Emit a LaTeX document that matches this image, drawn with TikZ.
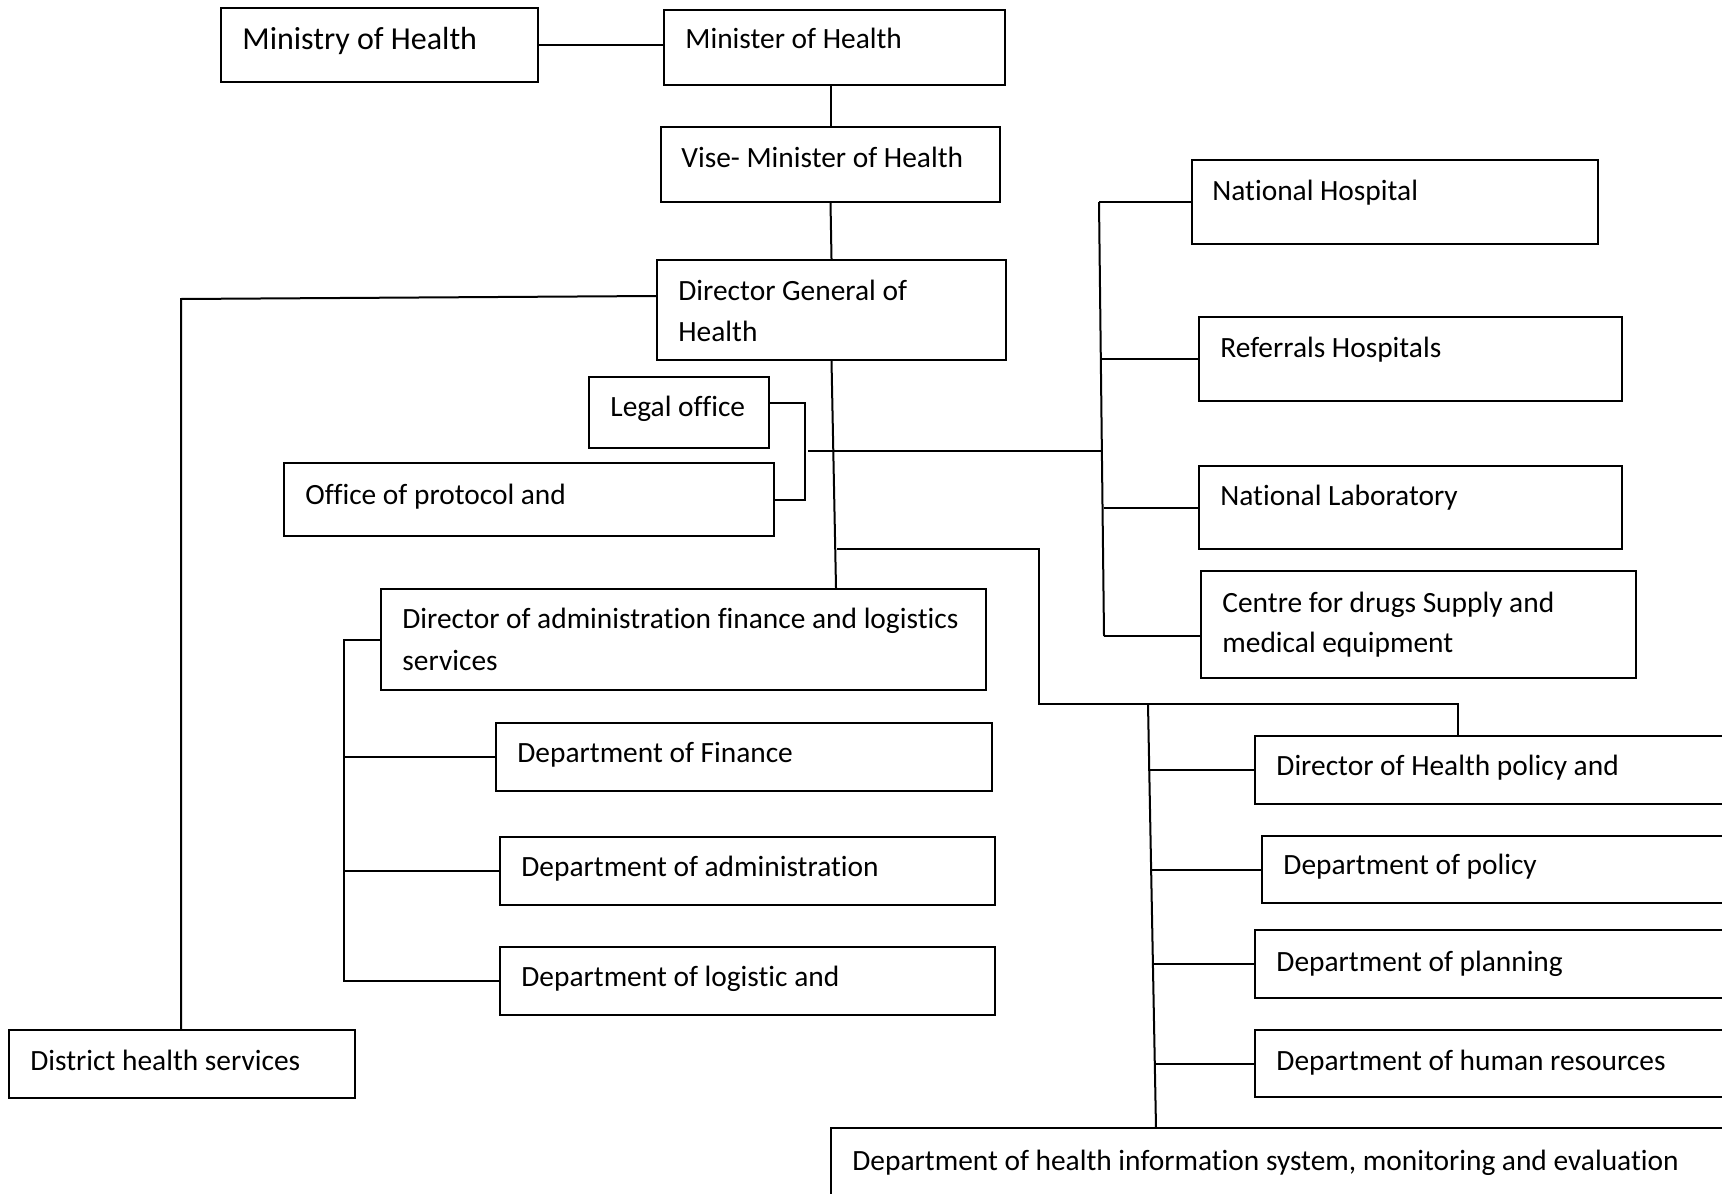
\documentclass[tikz,border=0pt]{standalone}
\usepackage{fontspec}
\setmainfont{Carlito}[Ligatures={NoCommon}]
\usetikzlibrary{fit,calc}
\begin{document}
\begin{tikzpicture}[x=0.5pt,y=-0.5pt,
  box/.style={draw,line width=1pt,inner sep=0pt,rectangle},
  conn/.style={draw,line width=1pt},
  lbl/.style={anchor=base west,inner sep=0pt,font=\fontsize{14.7pt}{18pt}\selectfont},
  biglbl/.style={anchor=base west,inner sep=0pt,font=\fontsize{16pt}{20pt}\selectfont}]
\useasboundingbox (0,0) rectangle (1722,1193);
\fill[white] (0,0) rectangle (1722,1193);
\clip (0,0) rectangle (1722,1193);

% top of the hierarchy
\node[box,fit={(221,8)(538,82)}] (ministry) {};
\node[biglbl] (ministry-t) at (242,50) {Ministry of Health};
\node[box,fit={(664,10)(1005,85)}] (minister) {};
\node[lbl] (minister-t) at (685,49) {Minister of Health};
\node[box,fit={(661,127)(1000,202)}] (vise) {};
\node[lbl] (vise-t) at (681,167) {Vise- Minister of Health};
\node[box,fit={(657,260)(1006,360)}] (dg) {};
\node[lbl] (dg-t1) at (678,300) {Director General of};
\node[lbl] (dg-t2) at (678,341) {Health};

% district level
\node[box,fit={(9,1030)(355,1098)}] (district) {};
\node[lbl] (district-t) at (30,1070) {District health services};

% offices attached to the Director General
\node[box,fit={(589,377)(769,448)}] (legal) {};
\node[lbl] (legal-t) at (610,416) {Legal office};
\node[box,fit={(284,463)(774,536)}] (office) {};
\node[lbl] (office-t) at (305,504) {Office of protocol and};

% hospitals and national centres
\node[box,fit={(1192,160)(1598,244)}] (nh) {};
\node[lbl] (nh-t) at (1212,200) {National Hospital};
\node[box,fit={(1199,317)(1622,401)}] (ref) {};
\node[lbl] (ref-t) at (1220,357) {Referrals Hospitals};
\node[box,fit={(1199,466)(1622,549)}] (lab) {};
\node[lbl] (lab-t) at (1220,505) {National Laboratory};
\node[box,fit={(1201,571)(1636,678)}] (centre) {};
\node[lbl] (centre-t1) at (1222,612) {Centre for drugs Supply and};
\node[lbl] (centre-t2) at (1222,652) {medical equipment};

% administration, finance and logistics
\node[box,fit={(381,589)(986,690)}] (dga) {};
\node[lbl] (dga-t1) at (402,628) {Director of administration finance and logistics};
\node[lbl] (dga-t2) at (402,670) {services};
\node[box,fit={(496,723)(992,791)}] (finance) {};
\node[lbl] (finance-t) at (517,762) {Department of Finance};
\node[box,fit={(500,837)(995,905)}] (admin) {};
\node[lbl] (admin-t) at (521,876) {Department of administration};
\node[box,fit={(500,947)(995,1015)}] (logistic) {};
\node[lbl] (logistic-t) at (521,986) {Department of logistic and};

% health policy and planning
\node[box,fit={(1255,736)(1760,804)}] (dhp) {};
\node[lbl] (dhp-t) at (1276,775) {Director of Health policy and};
\node[box,fit={(1262,836)(1760,903)}] (policy) {};
\node[lbl] (policy-t) at (1283,874) {Department of policy};
\node[box,fit={(1255,930)(1760,998)}] (planning) {};
\node[lbl] (planning-t) at (1276,971) {Department of planning};
\node[box,fit={(1255,1030)(1760,1097)}] (hr) {};
\node[lbl] (hr-t) at (1276,1070) {Department of human resources};
\node[box,fit={(831,1128)(1760,1230)}] (his) {};
\node[lbl] (his-t) at (852,1170) {Department of health information system, monitoring and evaluation};

% junction points of the connector lines
\coordinate (dk) at (181,299);
\coordinate (mv) at (836,589);
\coordinate (lb) at (805,0);
\coordinate (lj) at (808,451);
\coordinate (hj) at (1101,451);
\coordinate (ht) at (1099,202);
\coordinate (hm) at (1101,0);
\coordinate (hl) at (1104,0);
\coordinate (hb) at (1104,636);
\coordinate (p1) at (837,549);
\coordinate (p2) at (1039,549);
\coordinate (p3) at (1039,704);
\coordinate (p4) at (1458,704);
\coordinate (rt) at (1148,704);
\coordinate (rb) at (1156,1128);
\coordinate (r2) at (1152,0);
\coordinate (r3) at (1154,0);
\coordinate (ab) at (344,0);

% connectors
\draw[conn] (ministry.east) -- (ministry.east -| minister.west);
\draw[conn] (minister.south -| vise.north) -- (vise.north);
\draw[conn] (vise.south) -- (dg.north);
\draw[conn] ($(dg.west)+(0,-14)$) -- (dk) -- (dk |- district.north);
\draw[conn] (dg.south) -- (dga.north -| mv);
\draw[conn] ($(legal.east)+(0,-10)$) -- ($(legal.east -| lb)+(0,-10)$)
  -- (office.east -| lb) -- (office.east);
\draw[conn] (lj) -- (hj);
\draw[conn] (ht) -- (hb);
\draw[conn] (nh.west) -- (nh.west -| ht);
\draw[conn] (ref.west) -- (ref.west -| hm);
\draw[conn] (lab.west) -- (lab.west -| hl);
\draw[conn] (hb) -- (hb -| centre.west);
\draw[conn] (p1) -- (p2) -- (p3) -- (p4) -- (p4 |- dhp.north);
\draw[conn] (rt) -- (rb);
\draw[conn] (dhp.west) -- (dhp.west -| rt);
\draw[conn] (policy.west) -- (policy.west -| r2);
\draw[conn] (planning.west) -- (planning.west -| r3);
\draw[conn] (hr.west) -- (hr.west -| rb);
\draw[conn] (dga.west) -- (dga.west -| ab) -- (logistic.west -| ab) -- (logistic.west);
\draw[conn] (finance.west) -- (finance.west -| ab);
\draw[conn] (admin.west) -- (admin.west -| ab);
\end{tikzpicture}
\end{document}
